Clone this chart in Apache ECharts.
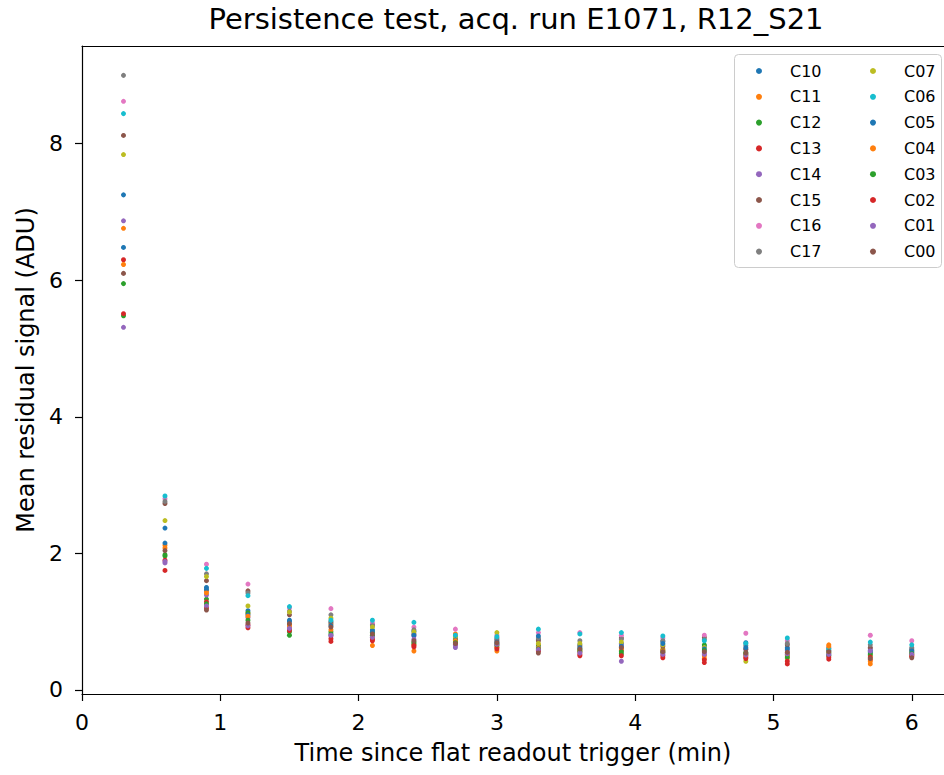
<!DOCTYPE html>
<html>
<head>
<meta charset="utf-8">
<script src="https://cdn.jsdelivr.net/npm/echarts@6/dist/echarts.min.js"></script>
<style>
html,body{margin:0;padding:0;background:#fff;}
#chart{width:944px;height:775px;}
</style>
</head>
<body>
<div id="chart"></div>
<script>
// Time since flat readout trigger (min)
const times = [0.3, 0.6, 0.9, 1.2, 1.5, 1.8, 2.1, 2.4, 2.7, 3.0, 3.3, 3.6, 3.9, 4.2, 4.5, 4.8, 5.1, 5.4, 5.7, 6.0];

const seriesNames = ['C10','C11','C12','C13','C14','C15','C16','C17','C07','C06','C05','C04','C03','C02','C01','C00'];
const seriesColors = ['#1f77b4','#ff7f0e','#2ca02c','#d62728','#9467bd','#8c564b','#e377c2','#7f7f7f',
                      '#bcbd22','#17becf','#1f77b4','#ff7f0e','#2ca02c','#d62728','#9467bd','#8c564b'];

const C10 = [7.25, 2.37, 1.50, 1.16, 1.02, 0.98, 0.88, 0.86, 0.75, 0.74, 0.74, 0.66, 0.68, 0.71, 0.64, 0.69, 0.62, 0.57, 0.58, 0.60];
const C11 = [6.76, 2.12, 1.45, 1.12, 0.96, 0.96, 0.65, 0.57, 0.82, 0.57, 0.66, 0.58, 0.62, 0.60, 0.46, 0.52, 0.55, 0.66, 0.38, 0.52];
const C12 = [5.95, 1.96, 1.33, 1.13, 0.80, 0.85, 0.84, 0.70, 0.70, 0.68, 0.64, 0.60, 0.53, 0.58, 0.66, 0.55, 0.52, 0.54, 0.54, 0.55];
const C13 = [6.30, 1.75, 1.29, 0.91, 0.89, 0.71, 0.72, 0.63, 0.66, 0.63, 0.58, 0.50, 0.58, 0.47, 0.40, 0.48, 0.38, 0.45, 0.44, 0.50];
const C14 = [6.87, 1.86, 1.39, 1.06, 0.92, 0.79, 0.78, 0.79, 0.62, 0.65, 0.62, 0.55, 0.66, 0.54, 0.54, 0.59, 0.58, 0.53, 0.61, 0.54];
const C15 = [8.12, 2.73, 1.60, 1.45, 1.10, 1.00, 0.96, 0.82, 0.74, 0.72, 0.72, 0.64, 0.76, 0.64, 0.77, 0.60, 0.66, 0.58, 0.62, 0.58];
const C16 = [8.62, 2.80, 1.84, 1.55, 1.20, 1.19, 0.98, 0.92, 0.89, 0.80, 0.84, 0.84, 0.80, 0.76, 0.80, 0.83, 0.72, 0.62, 0.80, 0.72];
const C17 = [9.00, 2.76, 1.70, 1.42, 1.15, 1.10, 0.94, 0.88, 0.78, 0.76, 0.76, 0.72, 0.74, 0.72, 0.74, 0.65, 0.68, 0.61, 0.66, 0.62];
const C07 = [7.84, 2.48, 1.66, 1.23, 1.14, 1.05, 0.92, 0.85, 0.77, 0.84, 0.68, 0.68, 0.70, 0.66, 0.62, 0.42, 0.46, 0.55, 0.50, 0.56];
const C06 = [8.44, 2.84, 1.78, 1.38, 1.22, 1.02, 1.02, 0.99, 0.80, 0.78, 0.89, 0.82, 0.84, 0.79, 0.72, 0.68, 0.76, 0.60, 0.70, 0.66];
const C05 = [6.48, 2.15, 1.47, 1.10, 1.00, 0.94, 0.86, 0.80, 0.73, 0.70, 0.79, 0.62, 0.64, 0.68, 0.60, 0.62, 0.60, 0.51, 0.56, 0.57];
const C04 = [6.23, 2.08, 1.42, 1.08, 0.94, 0.88, 0.76, 0.66, 0.72, 0.62, 0.61, 0.56, 0.60, 0.57, 0.50, 0.50, 0.50, 0.64, 0.42, 0.51];
const C03 = [5.48, 1.98, 1.26, 1.02, 0.85, 0.82, 0.80, 0.68, 0.69, 0.66, 0.60, 0.57, 0.56, 0.55, 0.58, 0.53, 0.48, 0.50, 0.52, 0.53];
const C02 = [5.51, 1.90, 1.20, 0.95, 0.87, 0.75, 0.74, 0.65, 0.67, 0.60, 0.57, 0.52, 0.50, 0.50, 0.44, 0.46, 0.42, 0.48, 0.48, 0.49];
const C01 = [5.31, 1.88, 1.23, 0.94, 0.90, 0.80, 0.77, 0.74, 0.65, 0.67, 0.59, 0.54, 0.42, 0.52, 0.52, 0.51, 0.53, 0.52, 0.57, 0.52];
const C00 = [6.10, 2.04, 1.17, 0.98, 0.97, 0.92, 0.82, 0.72, 0.68, 0.69, 0.54, 0.60, 0.62, 0.56, 0.56, 0.54, 0.55, 0.56, 0.46, 0.47];

const seriesValues = [C10, C11, C12, C13, C14, C15, C16, C17, C07, C06, C05, C04, C03, C02, C01, C00];

const xTickValues = [0, 1, 2, 3, 4, 5, 6];
const yTickValues = [0, 2, 4, 6, 8];

const FONT = 'DejaVu Sans';

const chart = echarts.init(document.getElementById('chart'), null, {renderer: 'svg'});

const series = seriesNames.map((name, i) => ({
  name: name,
  type: 'scatter',
  symbol: 'circle',
  symbolSize: 5,
  xAxisIndex: 0,
  yAxisIndex: 0,
  itemStyle: {color: seriesColors[i], opacity: 1},
  emphasis: {disabled: true},
  data: times.map((t, j) => [t, seriesValues[i][j]])
}));

const legendCommon = {
  orient: 'vertical',
  top: 63,
  padding: 0,
  icon: 'circle',
  itemWidth: 6,
  itemHeight: 6,
  itemGap: 9.8,
  selectedMode: false,
  z: 10,
  textStyle: {fontFamily: FONT, fontSize: 16, lineHeight: 16, color: '#000', padding: [0, 0, 0, 23]}
};

const xAxisCommon = {
  type: 'value',
  min: 0,
  max: 6.233,
  splitLine: {show: false}
};

chart.setOption({
  animation: false,
  backgroundColor: '#fff',
  title: {
    text: 'Persistence test, acq. run E1071, R12_S21',
    left: 516,
    top: 4,
    padding: 0,
    textAlign: 'center',
    textStyle: {fontFamily: FONT, fontSize: 29, fontWeight: 'normal', color: '#000'}
  },
  grid: {
    left: 82, top: 46, right: 0, bottom: 81,
    show: false
  },
  legend: [
    Object.assign({}, legendCommon, {left: 756, data: seriesNames.slice(0, 8)}),
    Object.assign({}, legendCommon, {left: 870, data: seriesNames.slice(8, 16)})
  ],
  graphic: [{
    type: 'rect',
    z: 9,
    shape: {x: 734.5, y: 54.5, width: 207, height: 213, r: 4},
    style: {fill: 'rgba(255,255,255,0.85)', stroke: '#cccccc', lineWidth: 1}
  }],
  xAxis: [
    Object.assign({}, xAxisCommon, {
      position: 'bottom',
      name: 'Time since flat readout trigger (min)',
      nameLocation: 'middle',
      nameGap: 47,
      nameTextStyle: {fontFamily: FONT, fontSize: 24, color: '#000'},
      axisLine: {show: true, onZero: false, lineStyle: {color: '#000', width: 1.2}},
      axisTick: {show: true, inside: false, length: 7, customValues: xTickValues, lineStyle: {color: '#000', width: 1.2}},
      axisLabel: {show: true, margin: 17, customValues: xTickValues, fontFamily: FONT, fontSize: 22, color: '#000',
                  formatter: v => String(v)}
    }),
    Object.assign({}, xAxisCommon, {
      position: 'top',
      axisLine: {show: true, onZero: false, lineStyle: {color: '#000', width: 1.2}},
      axisTick: {show: false},
      axisLabel: {show: false}
    })
  ],
  yAxis: {
    type: 'value',
    min: -0.06,
    max: 9.43,
    name: 'Mean residual signal (ADU)',
    nameLocation: 'middle',
    nameGap: 44,
    nameTextStyle: {fontFamily: FONT, fontSize: 24, color: '#000'},
    splitLine: {show: false},
    axisLine: {show: true, onZero: false, lineStyle: {color: '#000', width: 1.2}},
    axisTick: {show: true, inside: false, length: 7, customValues: yTickValues, lineStyle: {color: '#000', width: 1.2}},
    axisLabel: {show: true, margin: 19, customValues: yTickValues, fontFamily: FONT, fontSize: 22, color: '#000',
                formatter: v => String(v)}
  },
  series: series
});
</script>
</body>
</html>
